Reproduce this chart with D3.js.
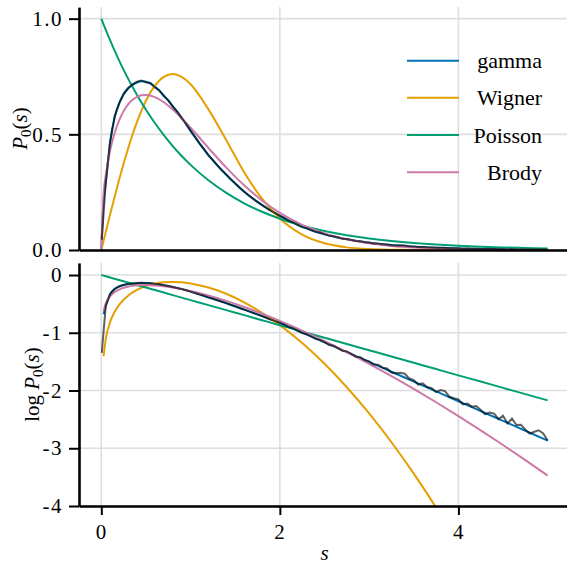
<!DOCTYPE html>
<html>
<head>
<meta charset="utf-8">
<script src="https://cdn.jsdelivr.net/npm/d3@7"></script>
<style>
  body { margin: 0; background: #fff; }
  .grid line { stroke: #dedede; stroke-width: 1.6; }
  .axis path, .axis line { stroke: #000; }
  .axis path { stroke-width: 2.6; }
  .axis line { stroke-width: 2; }
  .curve { fill: none; stroke-width: 2; }
</style>
</head>
<body>
<svg id="chart" width="567" height="566"></svg>
<script>
// s grid for the fitted curves
var curveS = [0, 0.025, 0.05, 0.1, 0.15, 0.2, 0.25, 0.3, 0.35, 0.4, 0.45, 0.5, 0.6, 0.7, 0.8, 0.9, 1.0,
              1.2, 1.4, 1.6, 1.8, 2.0, 2.25, 2.5, 2.75, 3.0, 3.25, 3.5, 3.75, 4.0, 4.25, 4.5, 4.75, 5.0];

var gammaP = [0, 0.21, 0.29, 0.47, 0.575, 0.635, 0.672, 0.698, 0.714, 0.724, 0.729, 0.727, 0.707, 0.668, 0.622, 0.572, 0.515,
              0.41, 0.325, 0.252, 0.194, 0.148, 0.1005, 0.0682, 0.0462, 0.0313, 0.0211, 0.01429, 0.00966, 0.00652, 0.00441, 0.00298, 0.00201, 0.00136];

var wignerP = [0, 0.03925, 0.07839, 0.1558, 0.2315, 0.3044, 0.3739, 0.4391, 0.4994, 0.5541, 0.6029, 0.6454, 0.7102, 0.7484, 0.7603, 0.7480, 0.7162,
               0.6080, 0.4746, 0.3365, 0.2219, 0.1358, 0.0663, 0.02899, 0.01138, 0.00401, 0.001271, 0.000364, 0.000094, 0.0000219, 0.0000046, 0.00000088, 0.00000015, 0.000000023];

var poissonP = [1, 0.9753, 0.9512, 0.9048, 0.8607, 0.8187, 0.7788, 0.7408, 0.7047, 0.6703, 0.6376, 0.6065, 0.5488, 0.4966, 0.4493, 0.4066, 0.3679,
                0.3012, 0.2466, 0.2019, 0.1653, 0.1353, 0.1054, 0.0821, 0.0639, 0.0498, 0.0388, 0.0302, 0.0235, 0.0183, 0.0143, 0.0111, 0.00865, 0.00674];

var brodyP = [0, 0.2382, 0.3231, 0.4329, 0.5070, 0.5606, 0.6003, 0.6291, 0.6492, 0.6620, 0.6688, 0.6704, 0.6611, 0.6388, 0.6074, 0.5698, 0.5284,
              0.4411, 0.3562, 0.2797, 0.2143, 0.1606, 0.1089, 0.07177, 0.0461, 0.02891, 0.01773, 0.01064, 0.00626, 0.003614, 0.002046, 0.00114, 0.000623, 0.000336];

// measured histogram (first bin, then every 0.05)
var dataS = [0.005].concat(d3.range(1, 101).map(i => i * 0.05));
var dataP = [0.045,
  0.295, 0.472, 0.578, 0.633, 0.676, 0.700, 0.716, 0.728, 0.733, 0.725,
  0.722, 0.703, 0.690, 0.664, 0.648, 0.620, 0.598, 0.570, 0.545, 0.516,
  0.489, 0.461, 0.437, 0.409, 0.389, 0.366, 0.345, 0.326, 0.306, 0.288,
  0.269, 0.253, 0.237, 0.222, 0.208, 0.195, 0.182, 0.170, 0.159, 0.148,
  0.1384, 0.1256, 0.1189, 0.1084, 0.0989, 0.0946, 0.0865, 0.0785, 0.0753, 0.0687,
  0.0621, 0.0598, 0.0543, 0.0489, 0.0476, 0.0431, 0.0385, 0.0379, 0.0337, 0.0320,
  0.0281, 0.0279, 0.0249, 0.0241, 0.0205, 0.0199, 0.0202, 0.0195, 0.0161, 0.0152,
  0.0127, 0.0133, 0.0115, 0.0110, 0.00940, 0.01021, 0.00977, 0.00778, 0.00736, 0.00705,
  0.00574, 0.00596, 0.00526, 0.00540, 0.00460, 0.00388, 0.00417, 0.00399, 0.00321, 0.00366,
  0.00269, 0.00327, 0.00252, 0.00255, 0.00210, 0.00179, 0.00193, 0.00205, 0.00181, 0.00136];

var seriesNames = ["gamma", "Wigner", "Poisson", "Brody"];
var seriesValues = [gammaP, wignerP, poissonP, brodyP];
var seriesColors = ["#0072B2", "#E69F00", "#009E73", "#CC79A7"];

var topTicks = [0, 0.5, 1.0];
var botTicks = [0, -1, -2, -3, -4];
var xTicks = [0, 2, 4];

var fontName = "Liberation Serif";
var svg = d3.select("#chart");

var x = d3.scaleLinear().domain([-0.25, 5.25]).range([79, 570]);
var yTop = d3.scaleLinear().domain([0, 1.05]).range([250, 7.1]);
var yBot = d3.scaleLinear().domain([-4, 0.21]).range([506, 262.9]);

var defs = svg.append("defs");
defs.append("clipPath").attr("id", "clipTop").append("rect")
  .attr("x", 79).attr("y", 7.1).attr("width", 491).attr("height", 250 - 7.1);
defs.append("clipPath").attr("id", "clipBot").append("rect")
  .attr("x", 79).attr("y", 262.9).attr("width", 491).attr("height", 506 - 262.9);

function panel(y, ticks, clipId, toY, valid) {
  var grid = svg.append("g").attr("class", "grid");
  grid.selectAll(".v").data(xTicks).enter().append("line")
    .attr("x1", d => x(d)).attr("x2", d => x(d))
    .attr("y1", y.range()[0]).attr("y2", y.range()[1]);
  grid.selectAll(".h").data(ticks).enter().append("line")
    .attr("x1", x.range()[0]).attr("x2", x.range()[1])
    .attr("y1", d => y(d)).attr("y2", d => y(d));

  var g = svg.append("g").attr("clip-path", "url(#" + clipId + ")");
  var line = d3.line()
    .defined(d => valid(d.p))
    .x(d => x(d.s)).y(d => y(toY(d.p)))
    .curve(d3.curveMonotoneX);

  seriesValues.forEach(function(vals, i) {
    var pts = curveS.map((s, j) => ({s: s, p: vals[j]}));
    g.append("path").attr("class", "curve")
      .attr("stroke", seriesColors[i])
      .attr("d", line(pts));
  });

  // histogram drawn last, semi-transparent black over the fits
  var dataLine = d3.line()
    .defined(d => valid(d.p))
    .x(d => x(d.s)).y(d => y(toY(d.p)));
  g.append("path").attr("class", "curve")
    .attr("stroke", "#000").attr("stroke-opacity", 0.62).attr("stroke-width", 1.6)
    .attr("d", dataLine(dataS.map((s, j) => ({s: s, p: dataP[j]}))));
}

panel(yTop, topTicks, "clipTop", p => p, p => p >= 0);
panel(yBot, botTicks, "clipBot", p => Math.log10(p), p => p > 0);

// axes
svg.append("g").attr("class", "axis").attr("transform", "translate(79,0)")
  .call(d3.axisLeft(yTop).tickValues(topTicks).tickFormat(d3.format(".1f")).tickSize(10).tickSizeOuter(0).tickPadding(6));
svg.append("g").attr("class", "axis").attr("transform", "translate(0,250)")
  .call(d3.axisBottom(x).tickValues([]).tickSizeOuter(0));
svg.append("g").attr("class", "axis").attr("transform", "translate(79,0)")
  .call(d3.axisLeft(yBot).tickValues(botTicks).tickFormat(d => String(d)).tickSize(10).tickSizeOuter(0).tickPadding(6));
svg.append("g").attr("class", "axis").attr("transform", "translate(0,506)")
  .call(d3.axisBottom(x).tickValues(xTicks).tickFormat(d => String(d)).tickSize(9).tickSizeOuter(0).tickPadding(9));

svg.selectAll(".axis").attr("font-family", fontName).attr("font-size", 21);
svg.selectAll(".axis text").attr("font-family", fontName).attr("letter-spacing", 1.5);

// axis labels
var lt = svg.append("text").attr("text-anchor", "middle")
  .attr("font-family", fontName).attr("font-size", 21)
  .attr("transform", "translate(27,128.5) rotate(-90)");
lt.append("tspan").attr("font-style", "italic").text("P");
lt.append("tspan").attr("font-size", 15).attr("dy", 4).text("0");
lt.append("tspan").attr("dy", -4).text("(");
lt.append("tspan").attr("font-style", "italic").text("s");
lt.append("tspan").text(")");

var lb = svg.append("text").attr("text-anchor", "middle")
  .attr("font-family", fontName).attr("font-size", 21)
  .attr("transform", "translate(39,384.5) rotate(-90)");
lb.append("tspan").text("log ");
lb.append("tspan").attr("font-style", "italic").text("P");
lb.append("tspan").attr("font-size", 15).attr("dy", 4).text("0");
lb.append("tspan").attr("dy", -4).text("(");
lb.append("tspan").attr("font-style", "italic").text("s");
lb.append("tspan").text(")");

svg.append("text").attr("x", x(2.5)).attr("y", 560).attr("text-anchor", "middle")
  .attr("font-family", fontName).attr("font-size", 21).attr("font-style", "italic").text("s");

// legend
var legend = svg.append("g");
var rowY = [60.7, 97.7, 135, 172.3];
seriesNames.forEach(function(name, i) {
  legend.append("line").attr("x1", 407).attr("x2", 459).attr("y1", rowY[i]).attr("y2", rowY[i])
    .attr("stroke", seriesColors[i]).attr("stroke-width", 2);
  legend.append("text").attr("x", 542).attr("y", rowY[i] + 7.5).attr("text-anchor", "end")
    .attr("font-family", fontName).attr("font-size", 22).text(name);
});
</script>
</body>
</html>
